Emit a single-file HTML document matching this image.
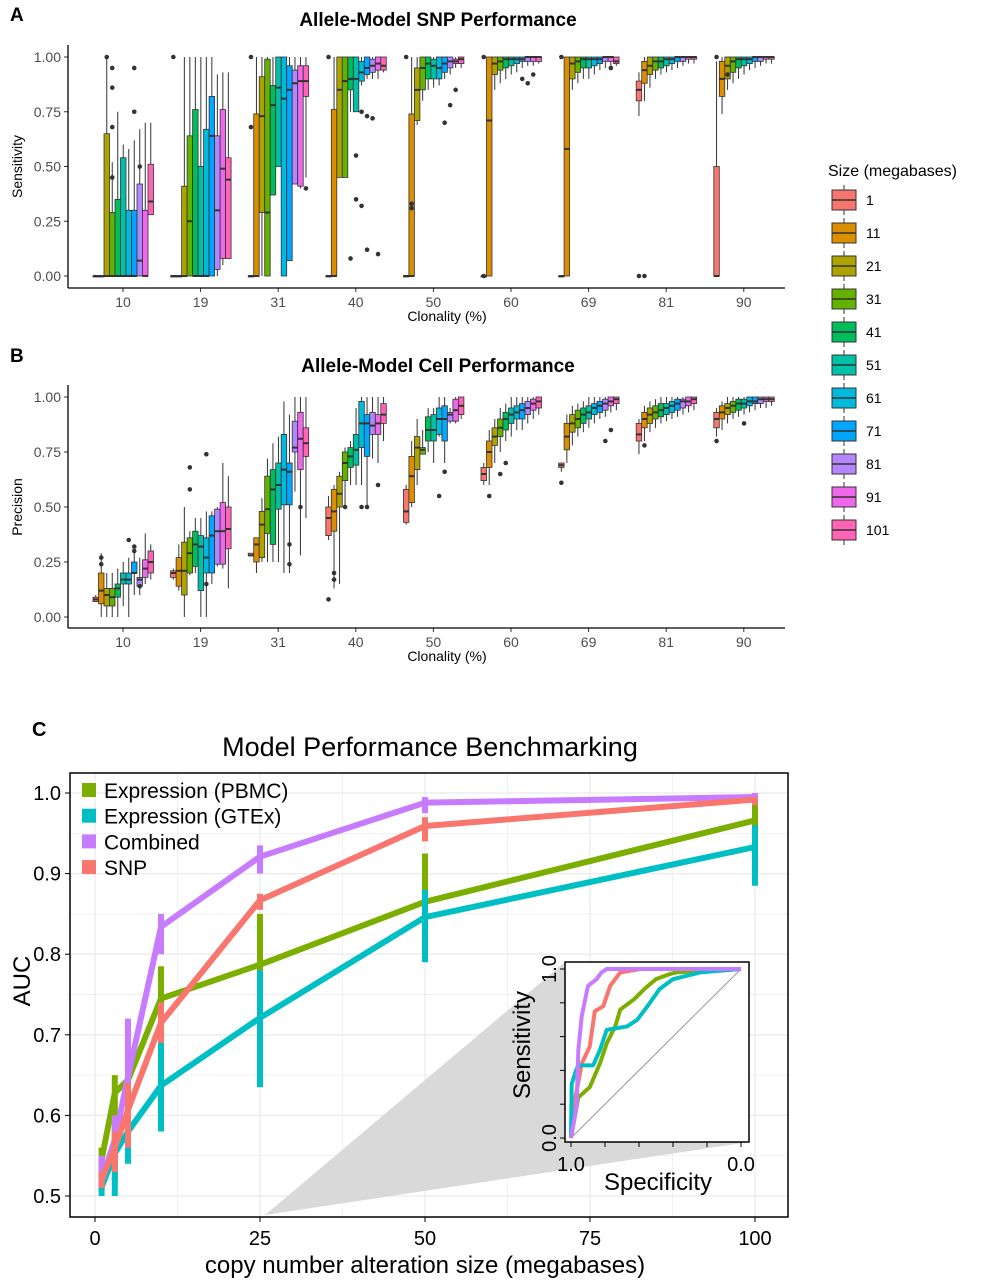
<!DOCTYPE html>
<html><head><meta charset="utf-8"><style>
body{margin:0;background:#fff}
svg{display:block;font-family:"Liberation Sans",sans-serif}
</style></head><body>
<svg id="fig" width="985" height="1280" viewBox="0 0 985 1280">
<g id="gA"></g>
<g id="gB"></g>
<g id="gLeg"></g>
<g id="gC"></g>
</svg>
<script>
const groups = ["10","19","31","40","50","60","69","81","90"];
const sizes = ["1","11","21","31","41","51","61","71","81","91","101"];
const sizeColors = ["#F8766D","#DB8E00","#AEA200","#64B200","#00BD5C","#00C1A7","#00BADE","#00A6FF","#B385FF","#EF67EB","#FF63B6"];
// Sensitivity boxes [lo,q1,med,q3,hi] per size
const sensG10 = [[0,0,0,0,0],[0,0,0,0,0],[0,0,0,0.65,1],[0,0,0,0.29,0.52],[0,0,0,0.35,0.75],[0,0,0,0.54,0.6],[0,0,0,0.3,0.58],[0,0,0,0.3,0.62],[0,0,0.07,0.42,0.67],[0,0,0,0.3,0.7],[0.28,0.28,0.34,0.51,0.7]];
const sensG19 = [[0,0,0,0,0],[0,0,0,0,0],[0,0,0,0.41,1],[0,0,0.25,0.64,1],[0,0,0,0.76,1],[0,0,0,0.5,1],[0,0,0,0.67,1],[0,0,0.64,0.82,1],[0,0.03,0.3,0.64,0.92],[0.05,0.08,0.49,0.76,0.93],[0.08,0.08,0.44,0.54,0.93]];
const sensG31 = [[0,0,0,0,0],[0,0,0,0.74,1],[0,0.29,0.73,0.91,1],[0,0,0.29,0.99,1],[0.37,0.37,0.78,0.87,1],[0.5,0.5,0.86,1,1],[0,0,0.81,1,1],[0.07,0.07,0.85,0.96,1],[0.42,0.42,0.88,0.94,1],[0.4,0.41,0.89,0.96,1],[0.45,0.82,0.89,0.96,1]];
const sensG40 = [[0,0,0,0,0],[0,0,0,0.76,1],[0.45,0.45,0.85,1,1],[0.45,0.45,0.89,1,1],[0.75,0.85,0.9,1,1],[0.75,0.75,0.9,1,1],[0.87,0.89,0.93,0.98,1],[0.9,0.92,0.95,1,1],[0.9,0.93,0.96,0.99,1],[0.9,0.94,0.97,1,1],[0.93,0.94,0.96,1,1]];
const sensG50 = [[0,0,0,0,0],[0,0,0,0.74,1],[0.69,0.71,0.85,0.95,1],[0.8,0.85,0.95,1,1],[0.85,0.9,0.97,1,1],[0.86,0.9,0.96,0.99,1],[0.87,0.9,0.95,1,1],[0.9,0.93,0.97,1,1],[0.92,0.95,0.98,1,1],[0.95,0.97,0.98,0.99,1],[0.95,0.97,0.99,1,1]];
const sensG60 = [[0,0,0,0,0],[0,0,0.71,1,1],[0.85,0.92,0.97,1,1],[0.88,0.94,0.98,1,1],[0.9,0.95,0.99,1,1],[0.92,0.96,0.99,1,1],[0.93,0.97,0.99,1,1],[0.95,0.98,0.99,1,1],[0.96,0.98,1,1,1],[0.96,0.98,1,1,1],[0.97,0.98,1,1,1]];
const sensG69 = [[0,0,0,0,0],[0,0,0.58,1,1],[0.85,0.9,0.97,1,1],[0.88,0.93,0.98,1,1],[0.9,0.95,0.99,1,1],[0.9,0.95,0.99,1,1],[0.92,0.96,0.99,1,1],[0.94,0.97,0.99,1,1],[0.95,0.98,1,1,1],[0.96,0.98,1,1,1],[0.96,0.97,0.98,1,1]];
const sensG81 = [[0.73,0.8,0.85,0.89,0.93],[0.8,0.88,0.94,0.98,1],[0.86,0.92,0.96,1,1],[0.9,0.94,0.98,1,1],[0.92,0.95,0.98,1,1],[0.93,0.96,0.99,1,1],[0.94,0.97,0.99,1,1],[0.95,0.98,1,1,1],[0.96,0.98,1,1,1],[0.97,0.99,1,1,1],[0.97,0.99,1,1,1]];
const sensG90 = [[0,0,0,0.5,0.98],[0.74,0.82,0.9,0.98,1],[0.85,0.9,0.96,1,1],[0.88,0.93,0.98,1,1],[0.9,0.95,0.99,1,1],[0.92,0.96,0.99,1,1],[0.94,0.97,0.99,1,1],[0.95,0.98,1,1,1],[0.96,0.98,1,1,1],[0.97,0.99,1,1,1],[0.97,0.99,1,1,1]];
const sensOutliers = [[0,2,1],[0,3,0.95],[0,3,0.86],[0,3,0.68],[0,3,0.45],[0,7,0.95],[0,7,0.75],[0,8,0.5],[1,0,1],[2,0,1],[2,0,0.68],[2,10,0.4],[3,0,1],[3,4,0.08],[3,5,0.35],[3,5,0.55],[3,6,0.75],[3,6,0.32],[3,7,0.12],[3,7,0.73],[3,8,0.72],[3,9,0.1],[4,0,1],[4,1,0.33],[4,1,0.31],[4,7,0.7],[4,8,0.78],[4,9,0.85],[5,0,1],[5,0,0],[5,7,0.9],[5,8,0.88],[5,9,0.92],[6,0,1],[6,9,0.95],[7,0,0],[7,1,0],[8,0,1],[8,2,0.92]];
// Precision boxes
const precG10 = [[0.07,0.07,0.08,0.09,0.1],[0,0.06,0.12,0.2,0.29],[0,0.05,0.1,0.13,0.2],[0,0.05,0.09,0.13,0.2],[0,0.09,0.13,0.15,0.22],[0.05,0.15,0.17,0.2,0.25],[0,0.15,0.17,0.2,0.27],[0.1,0.2,0.2,0.25,0.3],[0.1,0.14,0.17,0.18,0.27],[0.15,0.18,0.22,0.26,0.38],[0.17,0.2,0.25,0.3,0.33]];
const precG19 = [[0.17,0.18,0.2,0.21,0.22],[0.12,0.14,0.21,0.27,0.33],[0,0.1,0.21,0.34,0.5],[0.19,0.2,0.29,0.36,0.39],[0.2,0.23,0.33,0.39,0.45],[0,0.12,0.32,0.37,0.45],[0,0.2,0.27,0.36,0.48],[0.15,0.2,0.37,0.46,0.48],[0.23,0.24,0.39,0.49,0.5],[0.22,0.24,0.39,0.52,0.7],[0.13,0.31,0.4,0.5,0.64]];
const precG31 = [[0.28,0.28,0.28,0.29,0.29],[0.2,0.25,0.33,0.36,0.36],[0.25,0.27,0.42,0.48,0.54],[0.25,0.38,0.49,0.64,0.72],[0.25,0.33,0.58,0.67,0.79],[0.25,0.49,0.6,0.7,0.82],[0.2,0.51,0.67,0.83,0.98],[0.2,0.51,0.66,0.7,0.92],[0.57,0.75,0.77,0.89,1],[0.28,0.67,0.81,0.93,1],[0.45,0.73,0.79,0.86,1]];
const precG40 = [[0.35,0.37,0.45,0.5,0.55],[0.13,0.39,0.48,0.58,0.6],[0.15,0.5,0.56,0.64,0.66],[0.5,0.62,0.7,0.75,0.77],[0.6,0.68,0.73,0.77,0.8],[0.6,0.69,0.76,0.83,0.95],[0.6,0.77,0.88,0.98,1],[0.5,0.73,0.88,0.92,1],[0.72,0.83,0.87,0.93,1],[0.7,0.83,0.88,0.92,1],[0.8,0.88,0.92,0.97,1]];
const precG50 = [[0.42,0.43,0.48,0.58,0.6],[0.5,0.52,0.64,0.73,0.8],[0.6,0.67,0.77,0.82,0.9],[0.74,0.74,0.76,0.77,0.85],[0.75,0.8,0.85,0.91,0.95],[0.7,0.8,0.85,0.92,0.95],[0.82,0.83,0.9,0.95,1],[0.7,0.8,0.9,0.96,1],[0.88,0.89,0.92,0.93,0.95],[0.88,0.89,0.94,0.99,1],[0.9,0.92,0.96,1,1]];
const precG60 = [[0.6,0.62,0.65,0.68,0.7],[0.6,0.68,0.75,0.8,0.85],[0.7,0.78,0.82,0.86,0.9],[0.75,0.82,0.86,0.9,0.95],[0.8,0.85,0.9,0.93,0.97],[0.82,0.88,0.92,0.95,1],[0.85,0.9,0.93,0.96,1],[0.85,0.9,0.94,0.97,1],[0.88,0.92,0.95,0.98,1],[0.9,0.94,0.97,0.99,1],[0.92,0.95,0.98,1,1]];
const precG69 = [[0.66,0.68,0.69,0.7,0.7],[0.7,0.76,0.82,0.88,0.92],[0.78,0.84,0.88,0.92,0.96],[0.82,0.86,0.9,0.94,0.97],[0.84,0.88,0.92,0.95,0.98],[0.86,0.9,0.93,0.96,1],[0.88,0.92,0.95,0.97,1],[0.9,0.93,0.96,0.98,1],[0.91,0.94,0.97,0.99,1],[0.93,0.96,0.98,1,1],[0.94,0.97,0.99,1,1]];
const precG81 = [[0.74,0.8,0.83,0.88,0.9],[0.8,0.86,0.9,0.93,0.96],[0.84,0.88,0.92,0.95,0.98],[0.86,0.9,0.93,0.96,0.99],[0.88,0.91,0.94,0.97,1],[0.89,0.92,0.95,0.97,1],[0.9,0.93,0.96,0.98,1],[0.91,0.94,0.97,0.99,1],[0.92,0.95,0.98,0.99,1],[0.93,0.96,0.98,1,1],[0.94,0.97,0.99,1,1]];
const precG90 = [[0.82,0.86,0.9,0.93,0.95],[0.85,0.9,0.93,0.96,0.98],[0.88,0.92,0.95,0.97,1],[0.9,0.93,0.96,0.98,1],[0.91,0.94,0.97,0.99,1],[0.92,0.95,0.97,0.99,1],[0.93,0.96,0.98,1,1],[0.94,0.97,0.98,1,1],[0.95,0.97,0.99,1,1],[0.95,0.98,0.99,1,1],[0.96,0.98,0.99,1,1]];
const precOutliers = [[0,1,0.27],[0,1,0.24],[0,6,0.35],[0,7,0.32],[0,7,0.3],[0,8,0.14],[1,3,0.68],[1,3,0.58],[1,6,0.74],[1,6,0.15],[2,7,0.33],[2,7,0.24],[2,9,0.5],[3,0,0.08],[3,1,0.17],[3,1,0.2],[3,3,0.5],[3,6,0.5],[3,7,0.5],[3,9,0.6],[4,6,0.55],[4,7,0.66],[5,1,0.55],[5,3,0.65],[5,4,0.7],[6,0,0.61],[6,8,0.8],[6,9,0.85],[7,1,0.78],[8,0,0.8],[8,5,0.88]];

// Panel C data
const sizesMb = [1,3,5,10,25,50,100];
const aucPBMC = [0.545,0.628,0.644,0.745,0.787,0.865,0.966];
const aucPBMCLo = [0.505,0.52,0.58,0.68,0.75,0.82,0.91];
const aucPBMCHi = [0.56,0.65,0.70,0.785,0.85,0.925,1.0];
const aucGTEx = [0.511,0.553,0.58,0.637,0.721,0.846,0.933];
const aucGTExLo = [0.5,0.5,0.54,0.58,0.635,0.79,0.885];
const aucGTExHi = [0.53,0.56,0.62,0.70,0.78,0.88,0.96];
const aucComb = [0.52,0.57,0.648,0.834,0.921,0.988,0.995];
const aucCombLo = [0.51,0.54,0.56,0.8,0.9,0.975,0.985];
const aucCombHi = [0.55,0.6,0.72,0.85,0.935,0.995,1.0];
const aucSNP = [0.52,0.56,0.607,0.715,0.867,0.959,0.992];
const aucSNPLo = [0.51,0.53,0.56,0.69,0.855,0.94,0.985];
const aucSNPHi = [0.53,0.58,0.64,0.74,0.875,0.97,0.995];
const seriesNames = ["Expression (PBMC)","Expression (GTEx)","Combined","SNP"];
const seriesColors = ["#7CAE00","#00BFC4","#C77CFF","#F8766D"];
// ROC (false positive rate, sensitivity)
const rocCombFpr = [0,0.033,0.043,0.063,0.1,0.15,0.18,0.21,1];
const rocCombSens = [0,0.19,0.52,0.72,0.9,0.94,0.98,1,1];
const rocSNPFpr = [0,0.024,0.063,0.11,0.14,0.19,0.23,0.29,0.41,1];
const rocSNPSens = [0,0.23,0.44,0.54,0.75,0.78,0.9,0.98,1,1];
const rocPBMCFpr = [0,0.043,0.11,0.17,0.21,0.26,0.29,0.37,0.43,0.5,0.58,0.62,1];
const rocPBMCSens = [0,0.24,0.3,0.44,0.56,0.66,0.76,0.82,0.88,0.94,0.97,0.98,1];
const rocGTExFpr = [0,0.004,0.033,0.05,0.13,0.17,0.21,0.27,0.33,0.39,0.45,0.52,0.6,0.76,1];
const rocGTExSens = [0,0.32,0.41,0.43,0.43,0.52,0.64,0.65,0.66,0.70,0.78,0.88,0.94,0.98,1];

const NS="http://www.w3.org/2000/svg";
function mk(parent,tag,attrs,text){const e=document.createElementNS(NS,tag);for(const k in attrs)e.setAttribute(k,attrs[k]);if(text!==undefined)e.textContent=text;parent.appendChild(e);return e;}

function boxPanel(g,boxes,outs,y0,yScale,axisY,title,ylab,letter,letterY,titleY){
  const xC=i=>123+i*77.6;
  const bx=(i,j)=>xC(i)-30+j*5.5;
  const yv=v=>y0-v*yScale;
  let t=mk(g,'text',{x:10,y:letterY,'font-size':19,'font-weight':'bold'},letter);
  
  
  t=mk(g,'text',{x:438,y:titleY,'font-size':19,'font-weight':'bold','text-anchor':'middle'},title);
  
  
  t=mk(g,'text',{x:22,y:(yv(0)+yv(1))/2,'font-size':14,'text-anchor':'middle',transform:`rotate(-90 22 ${(yv(0)+yv(1))/2})`},ylab);
  
  
  [0,0.25,0.5,0.75,1].forEach(v=>{
    mk(g,'line',{x1:64,x2:68,y1:yv(v),y2:yv(v),stroke:'#333'});
    const l=mk(g,'text',{x:61,y:yv(v)+5,'font-size':14,'text-anchor':'end',fill:'#4d4d4d'},v.toFixed(2));
    
    
  });
  groups.forEach((gr,i)=>{
    mk(g,'line',{x1:xC(i),x2:xC(i),y1:axisY,y2:axisY+4,stroke:'#333'});
    const l=mk(g,'text',{x:xC(i),y:axisY+19,'font-size':14,'text-anchor':'middle',fill:'#4d4d4d'},gr);
    
    
    boxes[i].forEach((b,j)=>{
      const x=bx(i,j),c=x+2.75;
      const bg=mk(g,'g',{});
      
      
      mk(bg,'line',{x1:c,x2:c,y1:yv(b[0]),y2:yv(b[4]),stroke:'#333','stroke-width':1});
      mk(bg,'rect',{x:x,y:yv(b[3]),width:5.5,height:Math.max(1,yv(b[1])-yv(b[3])),fill:sizeColors[j],stroke:'#333','stroke-width':0.8});
      mk(bg,'line',{x1:x,x2:x+5.5,y1:yv(b[2]),y2:yv(b[2]),stroke:'#333','stroke-width':2});
    });
  });
  outs.forEach(o=>{
    const d=mk(g,'circle',{cx:bx(o[0],o[1])+2.75,cy:yv(o[2]),r:2.3,fill:'#333'});
    
    
  });
  mk(g,'line',{x1:68,x2:68,y1:yv(1)-12,y2:axisY,stroke:'#000','stroke-width':1.3});
  mk(g,'line',{x1:68,x2:785,y1:axisY,y2:axisY,stroke:'#000','stroke-width':1.3});
  t=mk(g,'text',{x:447,y:axisY+33,'font-size':14,'text-anchor':'middle'},'Clonality (%)');
  
  
}
boxPanel(document.getElementById('gA'),[sensG10,sensG19,sensG31,sensG40,sensG50,sensG60,sensG69,sensG81,sensG90],sensOutliers,276,219,288,'Allele-Model SNP Performance','Sensitivity','A',21,26);
boxPanel(document.getElementById('gB'),[precG10,precG19,precG31,precG40,precG50,precG60,precG69,precG81,precG90],precOutliers,617,220,628,'Allele-Model Cell Performance','Precision','B',362,372);

// legend
(function(){
  const g=document.getElementById('gLeg');
  let t=mk(g,'text',{x:828,y:176,'font-size':16},'Size (megabases)');
  
  
  sizes.forEach((s,i)=>{
    const y=200+i*33;
    const e=mk(g,'g',{});
    
    
    mk(e,'line',{x1:844,x2:844,y1:y-15,y2:y+15,stroke:'#333'});
    mk(e,'rect',{x:832,y:y-10,width:24,height:20,fill:sizeColors[i],stroke:'#333','stroke-width':1});
    mk(e,'line',{x1:832,x2:856,y1:y,y2:y,stroke:'#333','stroke-width':1.5});
    mk(e,'text',{x:866,y:y+5,'font-size':14},s);
  });
})();

// Panel C
(function(){
  const g=document.getElementById('gC');
  const X=v=>95+v*6.6, Y=v=>793+(1-v)*806;
  const TOP=773;
  let t=mk(g,'text',{x:32,y:736,'font-size':20,'font-weight':'bold'},'C');
  
  
  t=mk(g,'text',{x:430,y:756,'font-size':27,'text-anchor':'middle'},'Model Performance Benchmarking');
  
  
  // grid
  [0.5,0.55,0.6,0.65,0.7,0.75,0.8,0.85,0.9,0.95,1.0].forEach((v,k)=>mk(g,'line',{x1:70,x2:788,y1:Y(v),y2:Y(v),stroke:'#ebebeb','stroke-width':k%2?0.7:1.3}));
  [12.5,37.5,62.5,87.5,0,25,50,75,100].forEach((v,k)=>mk(g,'line',{x1:X(v),x2:X(v),y1:TOP,y2:1217,stroke:'#ebebeb','stroke-width':k<4?0.7:1.3}));
  // wedge
  const w=mk(g,'polygon',{points:'265,1215 565,962 749,1142',fill:'#d9d9d9'});
  
  
  const vals=[aucPBMC,aucGTEx,aucComb,aucSNP],los=[aucPBMCLo,aucGTExLo,aucCombLo,aucSNPLo],his=[aucPBMCHi,aucGTExHi,aucCombHi,aucSNPHi];
  const keys=['pbmc','gtex','combined','snp'];
  vals.forEach((arr,s)=>{
    const sg=mk(g,'g',{});
    
    
    sizesMb.forEach((x,i)=>mk(sg,'line',{x1:X(x),x2:X(x),y1:Y(los[s][i]),y2:Y(his[s][i]),stroke:seriesColors[s],'stroke-width':6}));
    mk(sg,'polyline',{points:arr.map((v,i)=>X(sizesMb[i])+','+Y(v)).join(' '),fill:'none',stroke:seriesColors[s],'stroke-width':6,'stroke-linejoin':'round'});
  });
  mk(g,'rect',{x:70,y:TOP,width:718,height:1217-TOP,fill:'none',stroke:'#000','stroke-width':1.5});
  [0.5,0.6,0.7,0.8,0.9,1.0].forEach(v=>{
    mk(g,'line',{x1:65,x2:70,y1:Y(v),y2:Y(v),stroke:'#000'});
    const l=mk(g,'text',{x:61,y:Y(v)+7,'font-size':20,'text-anchor':'end'},v.toFixed(1));
    
    
  });
  [0,25,50,75,100].forEach(v=>{
    mk(g,'line',{x1:X(v),x2:X(v),y1:1217,y2:1222,stroke:'#000'});
    const l=mk(g,'text',{x:X(v),y:1245,'font-size':20,'text-anchor':'middle'},String(v));
    
    
  });
  t=mk(g,'text',{x:425,y:1273,'font-size':24,'text-anchor':'middle'},'copy number alteration size (megabases)');
  
  
  t=mk(g,'text',{x:0,y:0,'font-size':24,'text-anchor':'middle',transform:'translate(30 981) rotate(-90)'},'AUC');
  
  
  // legend
  seriesNames.forEach((n,i)=>{
    const y=790+i*25.7;
    const e=mk(g,'g',{});
    
    
    mk(e,'rect',{x:82,y:y-7,width:14,height:14,fill:seriesColors[i]});
    mk(e,'text',{x:104,y:y+8,'font-size':21},n);
  });
  // inset
  const ig=mk(g,'g',{});
  
  
  mk(ig,'rect',{x:565,y:962,width:184,height:180,fill:'#fff',stroke:'#000','stroke-width':1.5});
  const IX=f=>571+f*170, IY=s=>1138-s*169;
  mk(ig,'line',{x1:IX(0),y1:IY(0),x2:IX(1),y2:IY(1),stroke:'#999','stroke-width':1});
  const rf=[rocPBMCFpr,rocGTExFpr,rocCombFpr,rocSNPFpr],rs=[rocPBMCSens,rocGTExSens,rocCombSens,rocSNPSens];
  [0,3,1,2].forEach(s=>{
    const p=mk(ig,'polyline',{points:rf[s].map((f,i)=>IX(f)+','+IY(rs[s][i])).join(' '),fill:'none',stroke:seriesColors[s],'stroke-width':4,'stroke-linejoin':'round'});
    
    
  });
  [0,0.2,0.4,0.6,0.8,1].forEach(v=>{
    mk(ig,'line',{x1:560,x2:565,y1:IY(v),y2:IY(v),stroke:'#000'});
    mk(ig,'line',{x1:IX(v),x2:IX(v),y1:1142,y2:1147,stroke:'#000'});
  });
  mk(ig,'text',{x:0,y:0,'font-size':20,'text-anchor':'middle',transform:`translate(556 ${IY(1)}) rotate(-90)`},'1.0');
  mk(ig,'text',{x:0,y:0,'font-size':20,'text-anchor':'middle',transform:`translate(556 ${IY(0)}) rotate(-90)`},'0.0');
  mk(ig,'text',{x:IX(0),y:1171,'font-size':20,'text-anchor':'middle'},'1.0');
  mk(ig,'text',{x:IX(1),y:1171,'font-size':20,'text-anchor':'middle'},'0.0');
  mk(ig,'text',{x:658,y:1190,'font-size':24,'text-anchor':'middle'},'Specificity');
  mk(ig,'text',{x:0,y:0,'font-size':24,'text-anchor':'middle',transform:'translate(530 1045) rotate(-90)'},'Sensitivity');
})();
</script>
</body></html>
